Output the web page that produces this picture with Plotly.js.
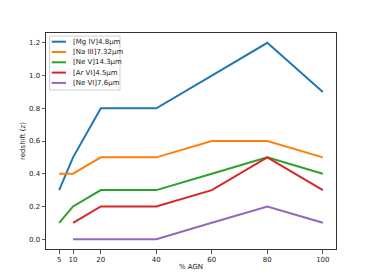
<!DOCTYPE html>
<html><head><meta charset="utf-8">
<script src="https://cdn.plot.ly/plotly-3.0.1.min.js"></script>
<style>html,body{margin:0;padding:0;background:#fff}#chart{width:374px;height:280px}</style>
</head><body><div id="chart"></div>
<script>
const agn = [5, 10, 20, 40, 60, 80, 100];
const mgIV = [0.3, 0.5, 0.8, 0.8, 1.0, 1.2, 0.9];
const naIII = [0.4, 0.4, 0.5, 0.5, 0.6, 0.6, 0.5];
const neV = [0.1, 0.2, 0.3, 0.3, 0.4, 0.5, 0.4];
const arVI = [null, 0.1, 0.2, 0.2, 0.3, 0.5, 0.3];
const neVI = [null, 0.0, 0.0, 0.0, 0.1, 0.2, 0.1];
const names = ['[Mg IV]4.8μm', '[Na III]7.32μm', '[Ne V]14.3μm', '[Ar VI]4.5μm', '[Ne VI]7.6μm'];
const series = [mgIV, naIII, neV, arVI, neVI];
const colors = ['#1f77b4', '#ff7f0e', '#2ca02c', '#d62728', '#9467bd'];
const xticks = [5, 10, 20, 40, 60, 80, 100];
const yticks = [0.0, 0.2, 0.4, 0.6, 0.8, 1.0, 1.2];

const traces = series.map((s, i) => ({
  x: agn, y: s, name: names[i], type: 'scatter', mode: 'lines',
  line: {color: colors[i], width: 2}, connectgaps: false, showlegend: false
}));

// legend drawn in paper coordinates (plot area: 290 x 216 px)
const W = 290, H = 216, L = 46, B = 249;
const px = v => (v - L) / W, py = v => (B - v) / H;
const shapes = [{type: 'rect', xref: 'paper', yref: 'paper', x0: px(49.5), x1: px(120), y0: py(90), y1: py(36),
  line: {color: '#d0d0d0', width: 1}, fillcolor: 'rgba(255,255,255,0.8)', layer: 'above'}];
const annotations = [];
names.forEach((n, i) => {
  const yy = 41.7 + i * 10.3;
  shapes.push({type: 'line', xref: 'paper', yref: 'paper', x0: px(51.7), x1: px(66), y0: py(yy), y1: py(yy),
    line: {color: colors[i], width: 2}, layer: 'above'});
  annotations.push({xref: 'paper', yref: 'paper', x: px(70.5), y: py(yy), text: n, showarrow: false,
    xanchor: 'left', yanchor: 'middle', font: {family: 'DejaVu Sans', size: 7, color: '#222'}});
});

const font = {family: 'DejaVu Sans', size: 7, color: '#222'};
const layout = {
  width: 374, height: 280,
  margin: {l: 46, r: 38, t: 33, b: 31},
  paper_bgcolor: '#fff', plot_bgcolor: '#fff',
  font: font, showlegend: false, shapes: shapes, annotations: annotations,
  xaxis: {range: [0.25, 104.75], tickvals: xticks, ticktext: xticks.map(String),
    showgrid: false, zeroline: false, showline: true, mirror: true, linecolor: '#333', linewidth: 1,
    ticks: 'outside', ticklen: 3.5, tickwidth: 0.8, tickcolor: '#333',
    title: {text: '% AGN', font: font, standoff: 1}},
  yaxis: {range: [-0.06, 1.26], tickvals: yticks, ticktext: yticks.map(v => v.toFixed(1)),
    showgrid: false, zeroline: false, showline: true, mirror: true, linecolor: '#333', linewidth: 1,
    ticks: 'outside', ticklen: 3.5, tickwidth: 0.8, tickcolor: '#333',
    title: {text: 'redshift (z)', font: font, standoff: 2}}
};
Plotly.newPlot('chart', traces, layout, {staticPlot: true, displayModeBar: false});
</script></body></html>
